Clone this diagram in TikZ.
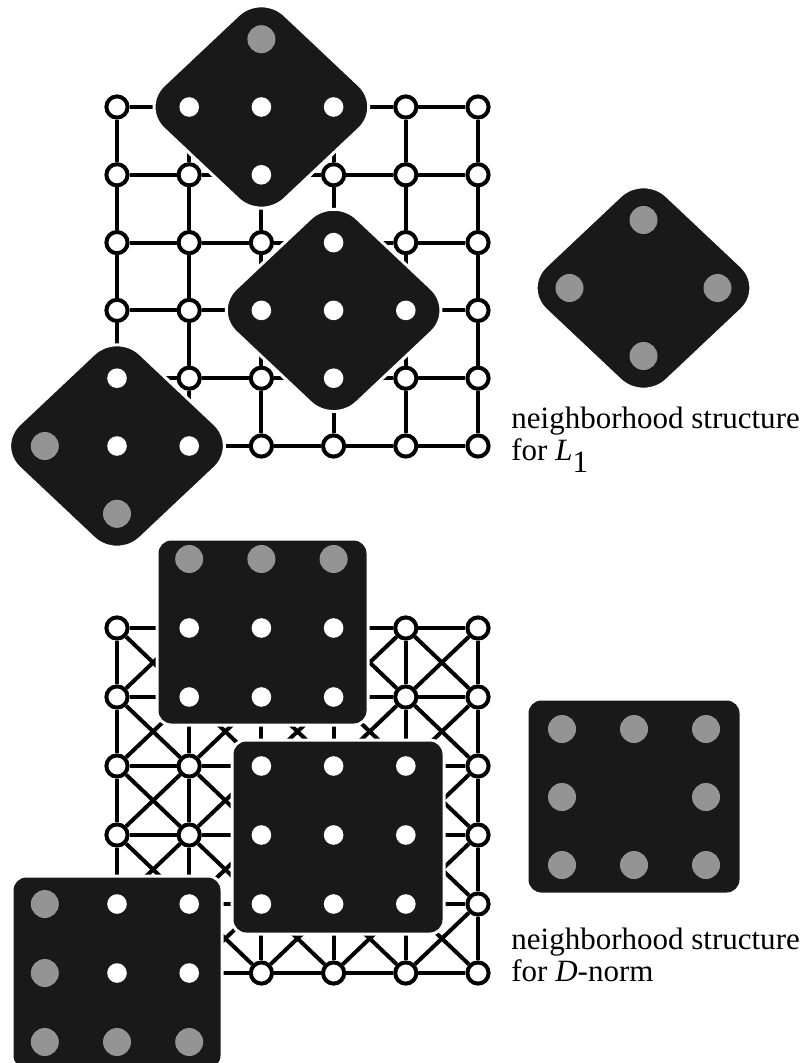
\documentclass[tikz,border=0pt]{standalone}
\usepackage{fontspec}
\setmainfont{Liberation Serif}

\newcommand{\nbdiamond}[2]{%
  \draw[nbhd,rounded corners=16pt] ({#1-60.5},{#2-57}) -- (#1,{#2-114}) -- ({#1+121},#2)
    -- (#1,{#2+114}) -- ({#1-121},#2) -- cycle;}

\begin{document}
\begin{tikzpicture}[x=0.5pt,y=-0.5pt,
  vtx/.style={circle,draw,fill=white,line width=2pt,minimum size=10.6pt,inner sep=0pt},
  bond/.style={line width=2pt},
  nbhd/.style={fill=black!90,draw=white,line width=1.5pt},
  inside/.style={circle,fill=white,minimum size=9.8pt,inner sep=0pt},
  outside/.style={circle,fill=black!42,minimum size=14pt,inner sep=0pt},
  lbl/.style={anchor=base west,inner sep=0pt,font=\fontsize{15.5pt}{16pt}\selectfont}]
\useasboundingbox (0,0) rectangle (803,1063);

% L1 lattice (4 neighbours)
\foreach \c in {1,...,6}
  \foreach \r in {1,...,6}
    \node[vtx] (t-\c-\r) at ({117+72.2*(\c-1)},{107+67.8*(\r-1)}) {};
\foreach \c in {1,...,6}
  \foreach \r [count=\s from 2] in {1,...,5} {
    \draw[bond] (t-\c-\r) -- (t-\c-\s);
    \draw[bond] (t-\r-\c) -- (t-\s-\c);
  }

% D-norm lattice (8 neighbours)
\foreach \c in {1,...,6}
  \foreach \r in {1,...,6}
    \node[vtx] (b-\c-\r) at ({117+72.2*(\c-1)},{628+69*(\r-1)}) {};
\foreach \c in {1,...,6}
  \foreach \r [count=\s from 2] in {1,...,5} {
    \draw[bond] (b-\c-\r) -- (b-\c-\s);
    \draw[bond] (b-\r-\c) -- (b-\s-\c);
  }
\foreach \c [count=\d from 2] in {1,...,5}
  \foreach \r [count=\s from 2] in {1,...,5} {
    \draw[bond] (b-\c-\r) -- (b-\d-\s);
    \draw[bond] (b-\d-\r) -- (b-\c-\s);
  }

% neighbourhoods for L1
\nbdiamond{261.4}{107}
\nbdiamond{333.6}{310.4}
\nbdiamond{117}{446}
\nbdiamond{643.5}{288}

% neighbourhoods for D-norm
\draw[nbhd,rounded corners=7pt] (157,539) rectangle (368,725);
\draw[nbhd,rounded corners=7pt] (232,740) rectangle (444,934);
\draw[nbhd,rounded corners=7pt] (12,876) rectangle (222,1070);
\draw[nbhd,rounded corners=7pt] (527,699) rectangle (741,894);

% sites covered by a neighbourhood
\foreach \p [count=\k] in {t-2-1,t-3-1,t-4-1,t-3-2,t-4-3,t-3-4,t-4-4,t-5-4,t-4-5,
    t-1-5,t-1-6,t-2-6,b-2-1,b-3-1,b-4-1,b-2-2,b-3-2,b-4-2,b-3-3,b-4-3,b-5-3,
    b-3-4,b-4-4,b-5-4,b-3-5,b-4-5,b-5-5,b-1-5,b-2-5,b-1-6,b-2-6}
  \node[inside] (in\k) at (\p) {};

% neighbours off the lattice
\foreach \x/\y [count=\k] in {261.4/39.2,44.8/446,117/513.8,
    643.5/220,569.5/288,717.5/288,643.5/356,
    189.2/559,261.4/559,333.6/559,44.8/904,44.8/973,44.8/1042,117/1042,189.2/1042,
    562/729,634/729,706/729,562/797,706/797,562/865,634/865,706/865}
  \node[outside] (out\k) at (\x,\y) {};

\node[lbl] (lonea) at (511,428) {neighborhood structure};
\node[lbl] (loneb) at (511,460) {for \textit{L}\raisebox{-6pt}{1}};
\node[lbl] (dnorma) at (511,949) {neighborhood structure};
\node[lbl] (dnormb) at (511,981.5) {for \textit{D}-norm};
\end{tikzpicture}
\end{document}
